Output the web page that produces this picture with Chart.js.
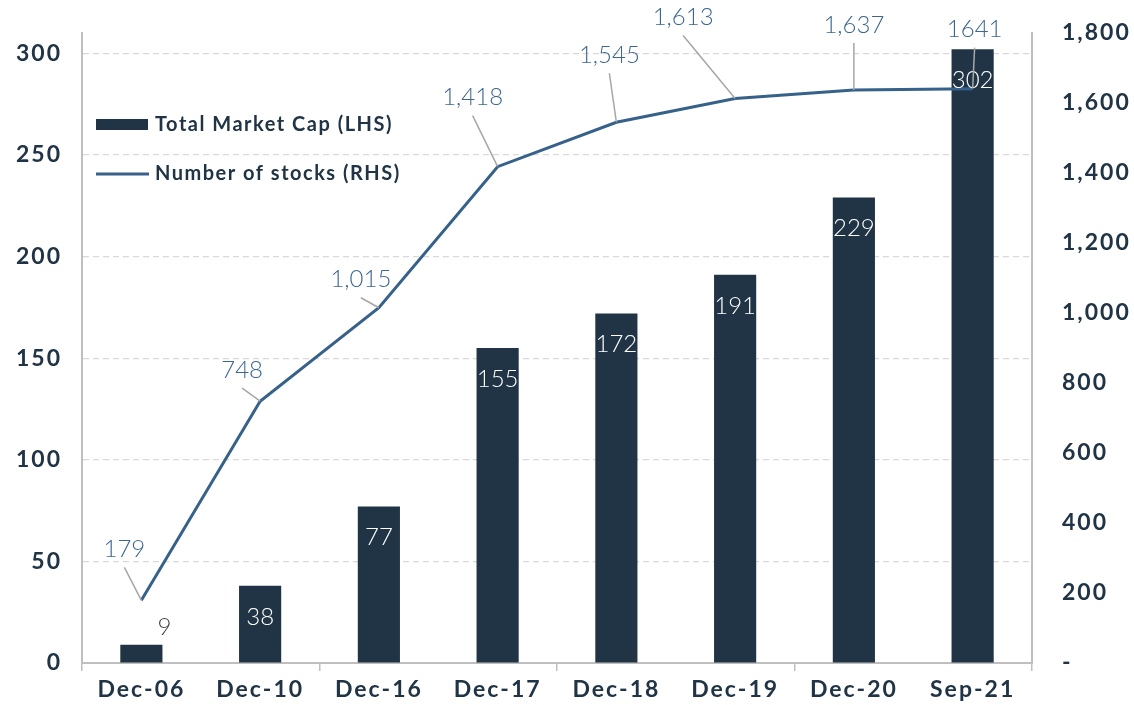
<!DOCTYPE html>
<html>
<head>
<meta charset="utf-8">
<script src="https://cdn.jsdelivr.net/npm/chart.js@4.4.0/dist/chart.umd.min.js"></script>
<style>
  html, body { margin: 0; padding: 0; background: #fff; }
  #wrap { width: 1134px; height: 705px; }
</style>
</head>
<body>
<div id="wrap"><canvas id="c" width="1134" height="705"></canvas></div>
<script>
const categories = ['Dec-06', 'Dec-10', 'Dec-16', 'Dec-17', 'Dec-18', 'Dec-19', 'Dec-20', 'Sep-21'];
const marketCap = [9, 38, 77, 155, 172, 191, 229, 302];
const numStocks = [179, 748, 1015, 1418, 1545, 1613, 1637, 1641];
const stockLabelText = ['179', '748', '1,015', '1,418', '1,545', '1,613', '1,637', '1641'];
const leftTicks = [0, 50, 100, 150, 200, 250, 300];
const rightTicks = [0, 200, 400, 600, 800, 1000, 1200, 1400, 1600, 1800];

// where each line label sits relative to its point (dx, dy)
const stockLabelOffsets = [[-17, -51], [-18, -31], [-18, -28], [-25, -69], [-7, -67], [-52, -81], [0, -65], [2, -59]];

const NAVY = '#203446';
const BLUE = '#36618a';
const AXIS = '#bfbfbf';
const FONT = 'Lato, "Open Sans", sans-serif';

const labelPlugin = {
  id: 'labels',
  beforeUpdate(chart) { chart.ctx.letterSpacing = '2px'; },
  beforeDraw(chart) { chart.ctx.letterSpacing = '2px'; },
  afterDatasetsDraw(chart) {
    const ctx = chart.ctx;
    ctx.save();
    ctx.letterSpacing = '0px';
    ctx.textAlign = 'center';
    ctx.textBaseline = 'middle';
    ctx.font = '300 24px ' + FONT;

    // bar labels
    const bars = chart.getDatasetMeta(1).data;
    bars.forEach((bar, i) => {
      const h = bar.base - bar.y;
      if (h > 40) {
        ctx.fillStyle = '#ffffff';
        ctx.fillText(String(marketCap[i]), bar.x, bar.y + 31);
      } else {
        ctx.fillStyle = '#404040';
        ctx.fillText(String(marketCap[i]), bar.x + 23, bar.y - 17);
      }
    });

    // line labels with leader lines
    const pts = chart.getDatasetMeta(0).data;
    pts.forEach((p, i) => {
      const lx = p.x + stockLabelOffsets[i][0];
      const ly = p.y + stockLabelOffsets[i][1];
      const sy = ly + 18;
      if (Math.hypot(p.x - lx, p.y - sy) > 12) {
        ctx.strokeStyle = '#a6a6a6';
        ctx.lineWidth = 1.5;
        ctx.beginPath();
        ctx.moveTo(lx, sy);
        ctx.lineTo(p.x, p.y);
        ctx.stroke();
      }
      ctx.fillStyle = '#3d6791';
      ctx.fillText(stockLabelText[i], lx, ly);
    });
    ctx.restore();
  },
  afterDraw(chart) {
    const ctx = chart.ctx;
    ctx.save();
    ctx.letterSpacing = '1.5px';
    ctx.font = 'bold 20px ' + FONT;
    ctx.textBaseline = 'middle';
    ctx.textAlign = 'left';
    ctx.fillStyle = NAVY;
    ctx.fillRect(96, 119, 52, 11);
    ctx.fillText(chart.data.datasets[1].label, 155, 125);
    ctx.strokeStyle = BLUE;
    ctx.lineWidth = 3;
    ctx.beginPath();
    ctx.moveTo(96, 174);
    ctx.lineTo(149, 174);
    ctx.stroke();
    ctx.fillStyle = NAVY;
    ctx.fillText(chart.data.datasets[0].label, 155, 174);
    ctx.restore();
  }
};

new Chart(document.getElementById('c'), {
  type: 'bar',
  data: {
    labels: categories,
    datasets: [
      {
        type: 'line',
        label: 'Number of stocks (RHS)',
        data: numStocks,
        yAxisID: 'y1',
        borderColor: BLUE,
        backgroundColor: BLUE,
        borderWidth: 3,
        pointRadius: 0,
        tension: 0,
        order: 0
      },
      {
        label: 'Total Market Cap (LHS)',
        data: marketCap,
        yAxisID: 'y',
        backgroundColor: NAVY,
        barPercentage: 0.355,
        categoryPercentage: 1,
        order: 1
      }
    ]
  },
  options: {
    responsive: false,
    animation: false,
    layout: { padding: { top: 33, left: 0, right: 0, bottom: 0 } },
    plugins: { legend: { display: false }, tooltip: { enabled: false } },
    scales: {
      x: {
        offset: true,
        grid: {
          offset: true,
          drawOnChartArea: false,
          tickLength: 8,
          lineWidth: 1.5,
          color: ctx => (ctx.index === undefined || ctx.index % 2 === 0) ? AXIS : 'rgba(0,0,0,0)'
        },
        border: { color: AXIS, width: 2 },
        ticks: { color: NAVY, font: { family: FONT, size: 23, weight: 'bold' }, padding: 5, maxRotation: 0 },
        afterFit: s => { s.height = 42; }
      },
      y: {
        position: 'left',
        min: 0,
        max: 310,
        afterBuildTicks: s => { s.ticks = leftTicks.map(v => ({ value: v })); },
        grid: {
          drawTicks: true,
          tickLength: 18,
          tickColor: 'rgba(0,0,0,0)',
          color: ctx => (ctx.tick && ctx.tick.value === 0) ? 'rgba(0,0,0,0)' : '#d9d9d9',
          lineWidth: 1.2
        },
        border: { color: AXIS, width: 2, dash: [6, 4] },
        ticks: { color: NAVY, font: { family: FONT, size: 23, weight: 'bold' }, padding: 2 },
        afterFit: s => { s.width = 82; }
      },
      y1: {
        position: 'right',
        min: 0,
        max: 1800,
        afterBuildTicks: s => { s.ticks = rightTicks.map(v => ({ value: v })); },
        grid: { drawOnChartArea: false, drawTicks: true, tickLength: 28, tickColor: 'rgba(0,0,0,0)' },
        border: { color: AXIS, width: 2 },
        ticks: {
          color: NAVY,
          font: { family: FONT, size: 23, weight: 'bold' },
          padding: 2,
          callback: v => v === 0 ? '-' : v.toLocaleString('en-US')
        },
        afterFit: s => { s.width = 102; }
      }
    }
  },
  plugins: [labelPlugin]
});
</script>
</body>
</html>
